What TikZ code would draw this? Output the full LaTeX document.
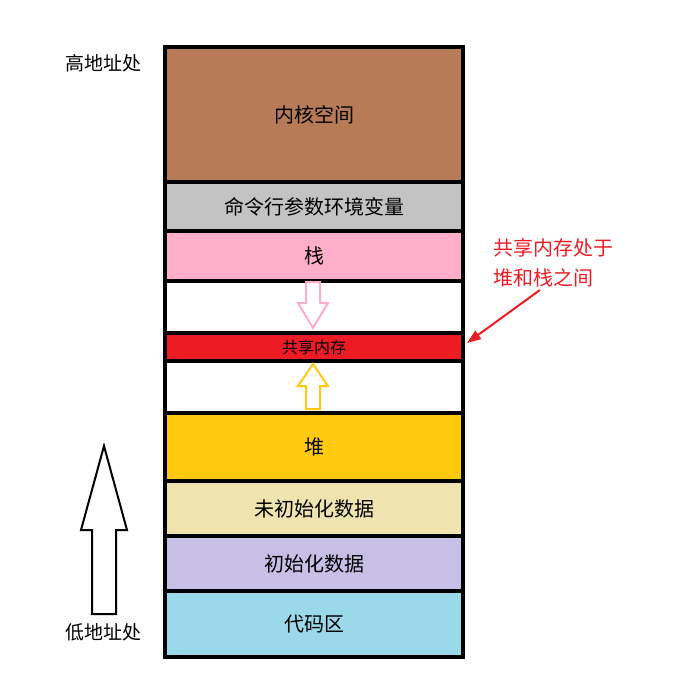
\documentclass[tikz,border=0pt]{standalone}
\usepackage{fontspec}
\setmainfont{Noto Sans CJK SC}
\usetikzlibrary{arrows.meta}

\definecolor{kernelc}{HTML}{B77B57}
\definecolor{cmdc}{HTML}{C3C3C3}
\definecolor{stackc}{HTML}{FFAEC9}
\definecolor{shmc}{HTML}{ED1C24}
\definecolor{heapc}{HTML}{FFC90E}
\definecolor{bssc}{HTML}{EFE4B0}
\definecolor{datac}{HTML}{C8BFE7}
\definecolor{textc}{HTML}{99D9EA}

\tikzset{
  layer/.style={draw=black,line width=4pt,minimum width=298pt,anchor=north,inner sep=0pt,
    font=\fontsize{20}{24}\selectfont},
  side/.style={font=\fontsize{19}{23}\selectfont},
  hollow/.style={draw,line width=2pt,fill=white,line join=miter}
}

\begin{document}
\begin{tikzpicture}[x=1pt,y=-1pt]
\useasboundingbox (0,0) rectangle (677,687);

\node[layer,fill=kernelc,minimum height=135pt] (kernel) at (314,45) {内核空间};
\node[layer,fill=cmdc,minimum height=49pt] (cmd) at (314,180) {命令行参数环境变量};
\node[layer,fill=stackc,minimum height=50pt] (stack) at (314,229) {栈};
\node[layer,fill=white,minimum height=52pt] (gap1) at (314,279) {};
\node[layer,fill=shmc,minimum height=28pt,font=\fontsize{16}{19}\selectfont] (shm) at (314,331) {共享内存};
\node[layer,fill=white,minimum height=52pt] (gap2) at (314,359) {};
\node[layer,fill=heapc,minimum height=68pt] (heap) at (314,411) {堆};
\node[layer,fill=bssc,minimum height=55pt] (bss) at (314,479) {未初始化数据};
\node[layer,fill=datac,minimum height=55pt] (data) at (314,534) {初始化数据};
\node[layer,fill=textc,minimum height=66pt] (code) at (314,589) {代码区};

% growth arrows
\draw[hollow,draw=stackc] (306,282) -- (320,282) -- (320,303) -- (328,303) -- (313,328)
  -- (298,303) -- (306,303) -- cycle;
\draw[hollow,draw=heapc] (306,409) -- (320,409) -- (320,386) -- (328,386) -- (313,364)
  -- (298,386) -- (306,386) -- cycle;

% address direction
\node[side] (high) at (103,63) {高地址处};
\node[side] (low) at (103,632) {低地址处};
\draw[hollow] (92,614) -- (116,614) -- (116,530) -- (127,530) -- (104,446)
  -- (81,530) -- (92,530) -- cycle;

% note
\node[align=left,anchor=west,text=shmc,font=\fontsize{20}{30}\selectfont] (note) at (490,263)
  {共享内存处于\\堆和栈之间};
\coordinate (tip) at (467,343);
\coordinate (src) at (540,290);
\draw[shmc,line width=2pt,{Triangle[length=14pt,width=10pt]}-] (tip) -- (src);
\end{tikzpicture}
\end{document}
